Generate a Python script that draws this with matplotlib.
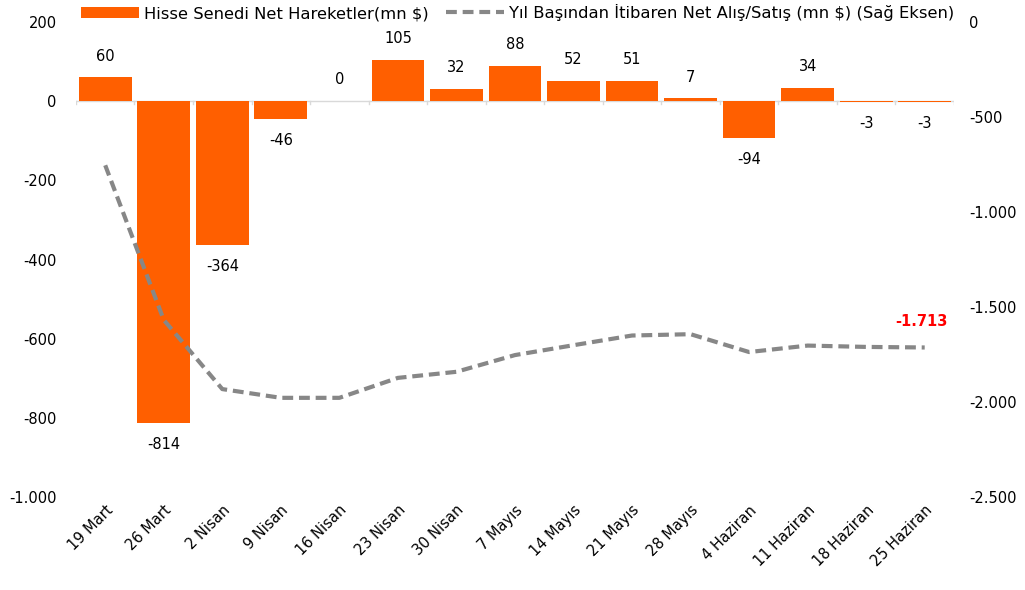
import numpy as np
import matplotlib
matplotlib.use("Agg")
import matplotlib.pyplot as plt
from matplotlib.ticker import FuncFormatter

weeks = ["19 Mart", "26 Mart", "2 Nisan", "9 Nisan", "16 Nisan", "23 Nisan", "30 Nisan",
         "7 Mayıs", "14 Mayıs", "21 Mayıs", "28 Mayıs", "4 Haziran", "11 Haziran",
         "18 Haziran", "25 Haziran"]
weekly_flow = [60, -814, -364, -46, 0, 105, 32, 88, 52, 51, 7, -94, 34, -3, -3]
ytd_flow = [-754, -1568, -1932, -1978, -1978, -1873, -1841, -1753, -1701, -1650,
            -1643, -1737, -1703, -1710, -1713]

bar_label = "Hisse Senedi Net Hareketler(mn $)"
line_label = "Yıl Başından İtibaren Net Alış/Satış (mn $) (Sağ Eksen)"

orange = "#FF5F00"
grey = "#878787"

plt.rcParams["font.family"] = ["DejaVu Sans"]
plt.rcParams["font.size"] = 10.5

def tr_fmt(v, pos):
    return f"{int(v):,}".replace(",", ".")

fig = plt.figure(figsize=(10.25, 5.9), dpi=100)
ax = fig.add_axes([0.0741, 0.1576, 0.8566, 0.8051])
ax2 = ax.twinx()

x = np.arange(len(weeks))
bars = ax.bar(x, weekly_flow, width=0.9, color=orange, label=bar_label, zorder=2)
ax.set_xlim(-0.5, len(weeks) - 0.5)
ax.set_ylim(-1000, 200)
ax.set_yticks(np.arange(-1000, 201, 200))
ax.yaxis.set_major_formatter(FuncFormatter(tr_fmt))

# zero line with small category separators
ax.axhline(0, color="#d9d9d9", lw=1, zorder=1)
for b in np.arange(-0.5, len(weeks), 1.0):
    ax.plot([b, b], [0, -8], color="#d9d9d9", lw=1, zorder=1)

for xi, v in zip(x, weekly_flow):
    if v >= 0:
        ax.annotate(str(v), (xi, v), xytext=(0, 10), textcoords="offset points",
                    ha="center", va="bottom", fontsize=10.5)
    else:
        ax.annotate(str(v), (xi, v), xytext=(0, -10), textcoords="offset points",
                    ha="center", va="top", fontsize=10.5)

line, = ax2.plot(x, ytd_flow, color=grey, lw=3, ls=(0, (2.6, 1.4)), label=line_label)
ax2.set_ylim(-2500, 0)
ax2.set_yticks(np.arange(-2500, 1, 500))
ax2.yaxis.set_major_formatter(FuncFormatter(tr_fmt))
ax2.annotate(tr_fmt(ytd_flow[-1], None), (x[-1], ytd_flow[-1]), xytext=(-2, 13),
             textcoords="offset points", ha="center", va="bottom",
             color="#FF0000", fontweight="bold", fontsize=10.5)

for a in (ax, ax2):
    for s in a.spines.values():
        s.set_visible(False)
    a.tick_params(axis="y", length=0, labelsize=10.5)
ax.tick_params(axis="y", pad=14)
ax2.tick_params(axis="y", pad=11)
ax.tick_params(axis="x", length=0, pad=4)
ax.set_xticks(x)
ax.set_xticklabels(weeks, rotation=45, ha="right", rotation_mode="anchor", fontsize=10.5)

fig.legend(handles=[bars, line], labels=[bar_label, line_label], loc="upper center",
           bbox_to_anchor=(0.505, 1.018), ncol=2, frameon=False, fontsize=11.8,
           handlelength=3.5, columnspacing=1.1, handletextpad=0.3)

fig.savefig("out.png", dpi=100)
